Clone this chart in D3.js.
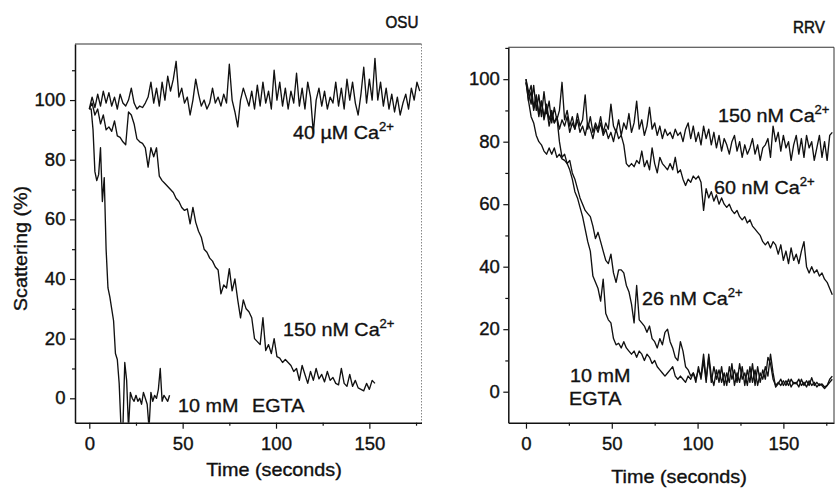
<!DOCTYPE html>
<html><head><meta charset="utf-8">
<script src="https://cdn.jsdelivr.net/npm/d3@7"></script>
<style>
body{margin:0;background:#fff}
svg{display:block}
</style>
</head><body>
<svg id="c" width="835" height="488"></svg>
<script>
// ---------------- DATA ----------------
// Axis ticks
const xTicksMajor = [0, 50, 100, 150];
const xTicksMinor = [25, 75, 125, 175];
const yTicksMajor = [0, 20, 40, 60, 80, 100];
const yTicksMinor = [10, 30, 50, 70, 90, 110];

// Panel OSU (left): scattering (%) sampled every 1.5 s (EGTA every 1 s), starting at t = 0
const osu40uM = [97,101,97.5,102,98,103,99,102.5,98,101,97,102,99,98,100,104,99,97,98,97.5,
  99,101,106,99,104,98,106,100,108,103,107,113,101,104,99,101,95,100,107,102,
  98,100,97,99,104,99,101,98,102,99,112,100,96,91,100,104,101,98,103,97,
  105,98,106,99,103,97,110,100,106,98,104,97,103,99,109,98,104,97,106,101,
  89,100,104,98,103,97,101,99,106,98,104,97,107,100,106,99,95,102,111,99,
  107,100,114,100,106,98,104,97,102,96,101,95,99,102,97,104,100,106,103];
const osu150nM = [97,99,95,97,92,95,90,91,89.5,93,
  88,87.5,86,85,96,95,92,87,86,85.5,
  84,77.5,84,81,84,74.5,73,72,71,70,
  69,67,66,64,63,63.5,58.5,64,59,56,
  54,50,49,47,46,44,43,35,38,37,
  43.5,36,40,33,27,33,30,29,27,20,
  19,18,27,16,18,15,20,14,13.5,12,
  13,12,11,9,10,6,11,8,5,9,
  6,10,6.5,8,5.5,9,6,7,5,4.5,
  10,5,4,8,4,6,3.5,3,2.5,5,
  3,6,5];
const osuEGTA = [97,97,90,76,73,75,84,66,74,50,37,34,30,26,15,13,5,-10,-10,12,
  6,-10,2,0,-1,1,-1,0,-2,2,0,-2,-10,2,-1,1,0,3,10,-1,1,0,-1,1];

// Panel RRV (right): scattering (%) sampled every 1.5 s, starting at t = 0
const rrv150nM = [100,96,92,98,90,95,88,96,89,93,
  86,91,87,90,99,87,90,85,88,84,
  89,85,87,95,84,88,83,86,84,88,
  83,86,84,92,85,83,87,82,86,84,
  89,83,86,93,84,87,82,85,91,84,
  86,82,85,81,84,82,83,81,84,82,
  83,80,84,86,81,85,80,83,79,85,
  81,84,79,83,78,82,77,81,79,76,
  80,82,77,80,75,79,76,78,81,76,
  79,74,78,79,81,75,85,80,83,77,
  82,78,80,74,79,82,76,81,75,82,
  78,80,74,78,82,75,80,74,82,83];
const rrv60nM = [99,93,96,90,94,88,93,87,91,85,
  89,86,88,84,87,85,88,83,86,84,
  87,83,85,82,86,84,81,85,83,86,
  82,84,81,83,80,84,81,82,79,73,
  72,73,72,74,73,77,72,74,71,78,
  73,70,75,73,72,71,73,71,75,70,
  71,68,66,68,67,69,68,69,67,58,
  65,62,64,61,63,60,62,60,59,60,
  58,57,58,56,55,56,54,55,53,52,
  51,50,48,47,48,46,48,47,44,47,
  42,45,41,46,42,44,41,45,48,40,
  38,40,38,39,37,38,36,35,33,31];
const rrv26nM = [99,95,98,91,95,89,93,88,92,87,
  90,86,88,80,75,76,73,74,70,68,
  65,62,60,58,57,56,53,49,51,48,
  45,42,41,44,38,35,39,39,38,34,
  32,28,22,34,23,22,21,19,21,17,
  16,14,17,15,19,20,16,14,11,10,
  16,13,8,7,5,6,4,7,5,12,
  4,11,3,8,4,7,3,6,2,8,
  4,7,3,9,4,6,2,8,3,7,
  2,6,4,8,5,12,6,1.5,2.5,4,
  2,3.5,2,4,2.5,3,1.5,4,2,3.5,
  2,4.5,2,3,2,2.5,1.5,2,4,5];
const rrvEGTA = [100,93,88,86,82,80,79,77,76,78,
  76,78,75,76,74.5,74,73,71,68,64,
  62,59,56,52,48,45,37,35,33,29,
  36,25,23,22,17,15,15.5,14,16,14,
  13,12,13,11,13,12,10,12,11,9,
  10,8,7,6,5,6,7,8,5,4,
  5,4,3,5,4,6,3,8,4,10,
  3,12,5,2,7,3,8,2,6,3,
  9,2,6,3,8,2,7,3,9,2,
  8,3,7,4,11,9,4,2,3,2,
  3.5,2,4,1.5,3,2.5,4,2,3,1.5,
  3.5,2,3,1.5,2.5,2,1,2,3,4];

// Text
const panelTitles = ["OSU", "RRV"];
const xAxisTitle = "Time (seconds)";
const yAxisTitle = "Scattering (%)";

// ---------------- DRAWING ----------------
const FONT = '"Liberation Sans", Arial, Helvetica, sans-serif';
const INK = '#111';
const svg = d3.select('#c');

function addText(g, x, y, parts, fs, opts = {}) {
  const sx = opts.sx || 1.06;
  const t = g.append('text')
    .attr('transform', `translate(${x},${y})${opts.rot ? ' rotate(' + opts.rot + ')' : ''} scale(${sx},1)`)
    .attr('font-family', FONT).attr('font-size', fs).attr('fill', INK)
    .attr('stroke', INK).attr('stroke-width', opts.sw == null ? 0.35 : opts.sw)
    .attr('text-anchor', opts.anchor || 'start');
  parts.forEach(p => {
    if (p.sup) t.append('tspan').attr('font-size', fs * 0.66).attr('dy', -fs * 0.42).text(p.t);
    else t.append('tspan').text(p.t);
  });
  return t;
}
const caLabel = (s) => [{t: s + ' Ca'}, {t: '2+', sup: true}];

function panel(cfg) {
  const g = svg.append('g');
  const x = d3.scaleLinear().domain(cfg.xDom).range([cfg.x0, cfg.x1]);
  const y = d3.scaleLinear().domain(cfg.yDom).range([cfg.y1, cfg.y0]);
  const id = 'clip-' + cfg.name;
  svg.append('defs').append('clipPath').attr('id', id).append('rect')
    .attr('x', cfg.x0).attr('y', cfg.y0).attr('width', cfg.x1 - cfg.x0).attr('height', cfg.y1 - cfg.y0);

  // frame (top / right)
  g.append('line').attr('x1', cfg.x0).attr('x2', cfg.x1).attr('y1', cfg.y0).attr('y2', cfg.y0)
    .attr('stroke', '#333').attr('stroke-width', 1.1);
  g.append('line').attr('x1', cfg.x1).attr('x2', cfg.x1).attr('y1', cfg.y0).attr('y2', cfg.y1)
    .attr('stroke', cfg.rightColor).attr('stroke-width', 1).attr('stroke-dasharray', cfg.rightDash);

  // traces
  cfg.series.forEach(s => {
    const line = d3.line().x((v, i) => x(s.t0 + i * s.dt)).y(v => y(v));
    g.append('path').attr('clip-path', `url(#${id})`).attr('d', line(s.v))
      .attr('fill', 'none').attr('stroke', INK).attr('stroke-width', 1.35)
      .attr('stroke-linejoin', 'round');
  });

  const styleAx = (sel, fs, sx) => {
    sel.attr('font-family', FONT).attr('font-size', fs);
    sel.select('.domain').attr('stroke', INK).attr('stroke-width', 1.5);
    sel.selectAll('.tick line').attr('stroke', INK).attr('stroke-width', 1.2);
    sel.selectAll('.tick text').attr('fill', INK).attr('stroke', INK).attr('stroke-width', 0.35)
      .attr('transform', `scale(${sx},1)`);
  };

  // x axis
  const gx = g.append('g').attr('transform', `translate(0,${cfg.y1})`)
    .call(d3.axisBottom(x).tickValues(xTicksMajor).tickSize(6).tickSizeOuter(0).tickPadding(9));
  styleAx(gx, cfg.tickFs, 1.06);
  const gxm = g.append('g').attr('transform', `translate(0,${cfg.y1})`)
    .call(d3.axisBottom(x).tickValues(xTicksMinor).tickSize(3).tickSizeOuter(0).tickFormat(''));
  styleAx(gxm, cfg.tickFs, 1); gxm.select('.domain').remove();

  // y axis
  const gy = g.append('g').attr('transform', `translate(${cfg.x0},0)`)
    .call(d3.axisLeft(y).tickValues(yTicksMajor).tickSize(5).tickSizeOuter(0).tickPadding(cfg.yPad));
  styleAx(gy, cfg.tickFs, 1.06);
  const gym = g.append('g').attr('transform', `translate(${cfg.x0},0)`)
    .call(d3.axisLeft(y).tickValues(yTicksMinor.filter(v => v < cfg.yDom[1])).tickSize(3).tickSizeOuter(0).tickFormat(''));
  styleAx(gym, cfg.tickFs, 1); gym.select('.domain').remove();

  // titles
  addText(g, cfg.title.x, cfg.title.y, [{t: cfg.title.text}], 16, {anchor: 'middle', sx: 0.95, sw: 0.5});
  addText(g, cfg.xTitle.x, cfg.xTitle.y, [{t: xAxisTitle}], 18, {anchor: 'middle', sx: 1.1});

  // series labels
  cfg.labels.forEach(l => addText(g, l.x, l.y, l.parts, 19, {sx: 1.04}));
  return {g, x, y};
}

const left = panel({
  name: 'osu', x0: 75, x1: 421.5, y0: 44, y1: 422.7,
  xDom: [-7.66, 177.93], yDom: [-8.18, 118.8],
  rightColor: '#888', rightDash: '1.5,1.5', tickFs: 17.5, yPad: 4,
  series: [
    {t0: 0, dt: 1.5, v: osu40uM},
    {t0: 0, dt: 1.5, v: osu150nM},
    {t0: 0, dt: 1, v: osuEGTA}
  ],
  title: {text: panelTitles[0], x: 402, y: 28},
  xTitle: {x: 274, y: 476},
  labels: [
    {x: 293, y: 139, parts: caLabel('40 \u00B5M')},
    {x: 283, y: 336, parts: caLabel('150 nM')},
    {x: 178, y: 412, parts: [{t: '10 mM'}]},
    {x: 252, y: 412, parts: [{t: 'EGTA'}]}
  ]
});

const right = panel({
  name: 'rrv', x0: 508.3, x1: 834, y0: 47.3, y1: 422.7,
  xDom: [-10.3, 179.5], yDom: [-9.92, 110.2],
  rightColor: '#333', rightDash: null, tickFs: 17.5, yPad: 3,
  series: [
    {t0: 0, dt: 1.5, v: rrv150nM},
    {t0: 0, dt: 1.5, v: rrv60nM},
    {t0: 0, dt: 1.5, v: rrv26nM},
    {t0: 0, dt: 1.5, v: rrvEGTA}
  ],
  title: {text: panelTitles[1], x: 809, y: 33},
  xTitle: {x: 679, y: 483},
  labels: [
    {x: 718, y: 122, parts: caLabel('150 nM')},
    {x: 714, y: 194, parts: caLabel('60 nM')},
    {x: 642, y: 305, parts: caLabel('26 nM')},
    {x: 570, y: 382, parts: [{t: '10 mM'}]},
    {x: 569, y: 405, parts: [{t: 'EGTA'}]}
  ]
});

// y axis title (left panel only)
addText(svg, 27, 248.5, [{t: yAxisTitle}], 18, {anchor: 'middle', rot: -90, sx: 1.1});
</script>
</body></html>
